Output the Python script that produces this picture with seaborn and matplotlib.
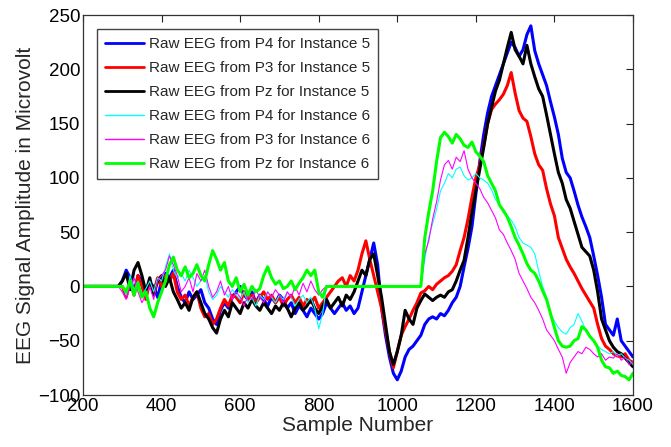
import numpy as np
import pandas as pd
import matplotlib
matplotlib.use("Agg")
import matplotlib.pyplot as plt
import seaborn as sns

# sample positions: flat start from 200 to 290, then every 10 samples from 300 to 1600
samples = [200, 290] + list(range(300, 1601, 10))

# Instance 5 (thick lines)
p4_inst5 = [0, 0,
    5, 15, 8, -5, 10, 5, -8, 3, 0, -10,
    5, 12, 8, 15, 0, -10, -15, -5, -12, -8,
    -3, -15, -20, -30, -35, -22, -15, -20, -10, -5,
    0, -8, -12, -5, -15, -8, -12, -18, -10, -15,
    -8, -12, -20, -15, -25, -18, -22, -28, -20, -25,
    -30, -25, -15, -20, -25, -20, -15, -22, -18, -25,
    -20, -5, 10, 25, 40, 20, -20, -45, -65, -80,
    -86, -78, -65, -58, -55, -50, -45, -35, -30, -28,
    -30, -25, -27, -22, -15, -10, 0, 18, 35, 55,
    85, 115, 140, 160, 175, 185, 195, 205, 215, 225,
    220, 212, 218, 232, 240, 217, 205, 195, 185, 170,
    156, 140, 118, 105, 100, 88, 75, 64, 55, 45,
    28, 10, -10, -35, -40, -45, -30, -50, -55, -60,
    -65]

p3_inst5 = [0, 0,
    0, -10, 5, -8, 10, 0, -12, 5, -5, 8,
    0, 10, 5, 12, -5, -12, -8, -18, -10, -5,
    -20, -28, -25, -35, -30, -20, -12, -18, -8, -10,
    -15, -5, -12, -8, -15, -10, -5, -12, -8, -15,
    -10, -18, -12, -8, -15, -10, -18, -12, -15, -10,
    -20, -15, -10, -5, 0, 5, 8, 0, 10, 5,
    15, 30, 42, 25, 10, -5, -20, -40, -60, -75,
    -60, -45, -37, -30, -22, -15, -6, -4, 0, -3,
    2, 5, 8, 10, 14, 20, 33, 45, 62, 82,
    100, 112, 130, 150, 163, 168, 172, 177, 185, 197,
    178, 162, 155, 152, 138, 122, 112, 107, 90, 76,
    65, 45, 35, 25, 18, 12, 5, -2, -8, -14,
    -20, -35, -48, -55, -58, -62, -64, -65, -62, -68,
    -70]

pz_inst5 = [0, 0,
    5, 12, -3, 15, 22, 10, -5, 8, -8, 5,
    10, 0, 8, -5, -12, -20, -15, -22, -10, -5,
    -15, -25, -30, -38, -43, -30, -22, -28, -15, -20,
    -25, -15, -20, -12, -18, -22, -15, -20, -25, -18,
    -22, -15, -20, -28, -20, -15, -22, -18, -12, -20,
    -25, -18, -12, -20, -15, -10, -18, -8, -12, -5,
    5, 15, 10, 25, 30, 10, -10, -35, -60, -72,
    -60, -45, -22, -30, -35, -20, -13, -7, -10, -13,
    -10, -8, -10, -5, -3, 5, 15, 24, 45, 68,
    88, 108, 128, 150, 165, 180, 190, 205, 220, 234,
    218, 212, 205, 222, 205, 193, 182, 175, 158, 140,
    122, 105, 95, 80, 72, 60, 48, 36, 32, 28,
    15, -5, -30, -40, -50, -56, -60, -62, -66, -70,
    -74]

# Instance 6 (zero between ~820 and ~1060)
p4_inst6 = [0, 0,
    0, -8, 10, -3, 5, -8, -2, 5, -5, 8,
    5, 18, 30, 15, 8, 12, 5, 15, 8, 0,
    5, 10, -5, -12, -8, 0, -5, -10, -3, -8,
    -12, -5, -15, -10, -18, -8, -12, -5, -10, -15,
    -8, -12, -5, -10, -18, -12, -8, -15, -10, -20,
    -39, -25, 0, 0, 0, 0, 0, 0, 0, 0,
    0, 0, 0, 0, 0, 0, 0, 0, 0, 0,
    0, 0, 0, 0, 0, 0, 0, 25, 45, 58,
    71, 88, 95, 104, 100, 108, 110, 102, 98, 100,
    104, 100, 98, 95, 89, 80, 75, 68, 65, 61,
    55, 45, 40, 38, 36, 30, 14, 0, -10, -25,
    -32, -38, -42, -44, -38, -35, -25, -32, -40, -45,
    -50, -55, -58, -60, -62, -60, -64, -62, -66, -68,
    -72]

p3_inst6 = [0, 0,
    -5, -12, 0, 8, -5, -15, -8, 0, -12, 5,
    10, 15, 28, 20, 10, -5, 0, 8, -5, 12,
    5, 15, 0, -10, -5, 5, -8, 0, -12, -5,
    -10, -18, -8, -12, -3, -10, -15, -5, -10, -3,
    -8, -15, -5, -10, 0, -8, 3, -5, 5, -3,
    -8, -3, 0, 0, 0, 0, 0, 0, 0, 0,
    0, 0, 0, 0, 0, 0, 0, 0, 0, 0,
    0, 0, 0, 0, 0, 0, 0, 30, 42, 62,
    78, 98, 112, 116, 108, 119, 115, 125, 108, 100,
    95, 90, 82, 77, 70, 63, 52, 48, 40, 33,
    25, 12, 5, -2, -10, -15, -22, -30, -40, -45,
    -50, -58, -65, -80, -70, -65, -60, -62, -56, -58,
    -62, -65, -62, -68, -65, -66, -62, -68, -65, -72,
    -70]

pz_inst6 = [0, 0,
    0, -5, 5, -8, 3, -10, -5, -20, -28, -15,
    -5, 5, 20, 27, 15, 10, 18, 8, 12, 20,
    10, 5, 20, 33, 25, 15, 22, 5, 0, 8,
    -5, 2, -8, 0, -5, -2, 10, 18, 8, 2,
    5, -2, 0, 5, -3, 3, 8, 15, 10, 15,
    -5, -10, 0, 0, 0, 0, 0, 0, 0, 0,
    0, 0, 0, 0, 0, 0, 0, 0, 0, 0,
    0, 0, 0, 0, 0, 0, 0, 45, 68, 88,
    115, 137, 142, 138, 132, 140, 136, 130, 128, 133,
    124, 120, 115, 102, 95, 88, 75, 70, 64, 55,
    45, 38, 30, 21, 15, 12, 5, -4, -12, -25,
    -38, -50, -55, -56, -55, -50, -48, -37, -40, -46,
    -50, -56, -68, -74, -75, -80, -78, -82, -83, -86,
    -80]

labels = ["Raw EEG from P4 for Instance 5", "Raw EEG from P3 for Instance 5",
          "Raw EEG from Pz for Instance 5", "Raw EEG from P4 for Instance 6",
          "Raw EEG from P3 for Instance 6", "Raw EEG from Pz for Instance 6"]
series = [p4_inst5, p3_inst5, pz_inst5, p4_inst6, p3_inst6, pz_inst6]
colors = ["#0000ff", "#ff0000", "#000000", "#00ffff", "#ff00ff", "#00ff00"]
widths = [2.2, 2.2, 2.2, 0.8, 0.8, 2.2]

sns.set_style("white")
plt.rcParams['font.family'] = ['Liberation Sans', 'DejaVu Sans']

fig = plt.figure(figsize=(6.71, 4.47), dpi=100)
ax = fig.add_axes([83 / 671, 1 - 395 / 447, 550 / 671, 380 / 447])

for vals, lab, col, lw in zip(series, labels, colors, widths):
    df = pd.DataFrame({"sample": samples, "amp": vals})
    sns.lineplot(data=df, x="sample", y="amp", color=col, lw=lw, label=lab,
                 estimator=None, ax=ax)

ax.set_xlim(200, 1600)
ax.set_ylim(-100, 250)
ax.set_xticks(np.arange(200, 1601, 200))
ax.set_yticks(np.arange(-100, 251, 50))
ax.tick_params(direction='in', top=True, right=True, length=5, width=0.8,
               labelsize=13.5, pad=2, colors='#222222', labelcolor='black')
for s in ax.spines.values():
    s.set_color('#333333')
    s.set_linewidth(0.9)

ax.set_xlabel("Sample Number", fontsize=15, labelpad=1)
ax.set_ylabel("EEG Signal Amplitude in Microvolt", fontsize=15, labelpad=2)

leg = ax.legend(loc='upper left', bbox_to_anchor=(14 / 550, 366 / 380), borderaxespad=0,
                fontsize=11, frameon=True, fancybox=False, framealpha=1,
                handlelength=2.5, handletextpad=0.35, labelspacing=0.65,
                borderpad=0.55)
leg.get_frame().set_edgecolor('#444444')
leg.get_frame().set_linewidth(1.0)
for line in leg.get_lines():
    line.set_linewidth(2.0 if line.get_linewidth() > 1 else 1.0)

fig.savefig("out.png", dpi=100)
